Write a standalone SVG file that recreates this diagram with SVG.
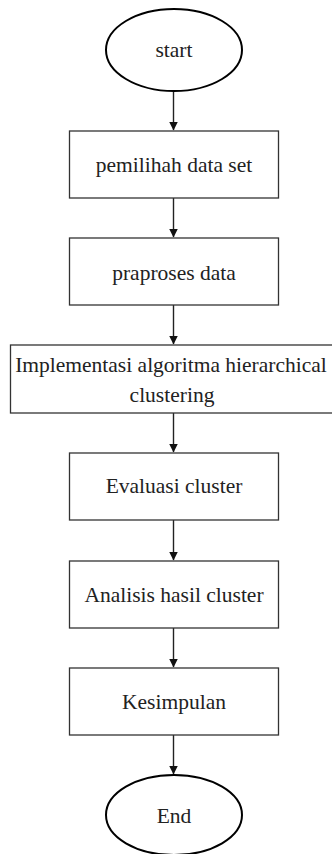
<svg xmlns="http://www.w3.org/2000/svg" width="332" height="854" viewBox="0 0 332 854">
<defs>
<style>
.box{fill:#fff;stroke:#333;stroke-width:1.3}
.term{fill:#fff;stroke:#000;stroke-width:2}
.lbl{font-family:"Liberation Serif","Times New Roman",serif;font-size:21.5px;fill:#222;text-anchor:middle}
.edge{stroke:#222;stroke-width:1.4;fill:none;marker-end:url(#ah)}
</style>
<marker id="ah" markerWidth="9" markerHeight="10" refX="8.5" refY="4.5" orient="auto" markerUnits="userSpaceOnUse" viewBox="0 0 9 10">
<path d="M0,0 L9,4.5 L0,9 Z" fill="#111"/>
</marker>
</defs>
<rect width="332" height="854" fill="#fff"/>
<g id="connectors">
<line class="edge" x1="173.5" y1="91" x2="173.5" y2="130"/>
<line class="edge" x1="173.5" y1="198" x2="173.5" y2="237"/>
<line class="edge" x1="173.5" y1="305" x2="173.5" y2="344"/>
<line class="edge" x1="173.5" y1="413" x2="173.5" y2="452"/>
<line class="edge" x1="173.5" y1="520" x2="173.5" y2="560"/>
<line class="edge" x1="173.5" y1="628" x2="173.5" y2="667"/>
<line class="edge" x1="173.5" y1="735" x2="173.5" y2="774"/>
</g>
<g id="start">
<ellipse class="term" cx="174" cy="50" rx="68" ry="41"/>
<text class="lbl" x="174" y="57">start</text>
</g>
<g id="pemilihan">
<rect class="box" x="69.5" y="131" width="209" height="67"/>
<text class="lbl" x="174" y="172">pemilihah data set</text>
</g>
<g id="praproses">
<rect class="box" x="69.5" y="238" width="209" height="67"/>
<text class="lbl" x="174" y="280">praproses data</text>
</g>
<g id="implementasi">
<rect class="box" x="10.5" y="345" width="325" height="68"/>
<text class="lbl" x="171" y="372">Implementasi algoritma hierarchical</text>
<text class="lbl" x="172" y="402">clustering</text>
</g>
<g id="evaluasi">
<rect class="box" x="69.5" y="453" width="209" height="67"/>
<text class="lbl" x="174" y="493">Evaluasi cluster</text>
</g>
<g id="analisis">
<rect class="box" x="69.5" y="561" width="209" height="67"/>
<text class="lbl" x="174" y="602">Analisis hasil cluster</text>
</g>
<g id="kesimpulan">
<rect class="box" x="69.5" y="668" width="209" height="67"/>
<text class="lbl" x="174" y="709">Kesimpulan</text>
</g>
<g id="end">
<ellipse class="term" cx="174" cy="815" rx="68" ry="40"/>
<text class="lbl" x="174" y="823">End</text>
</g>
</svg>
